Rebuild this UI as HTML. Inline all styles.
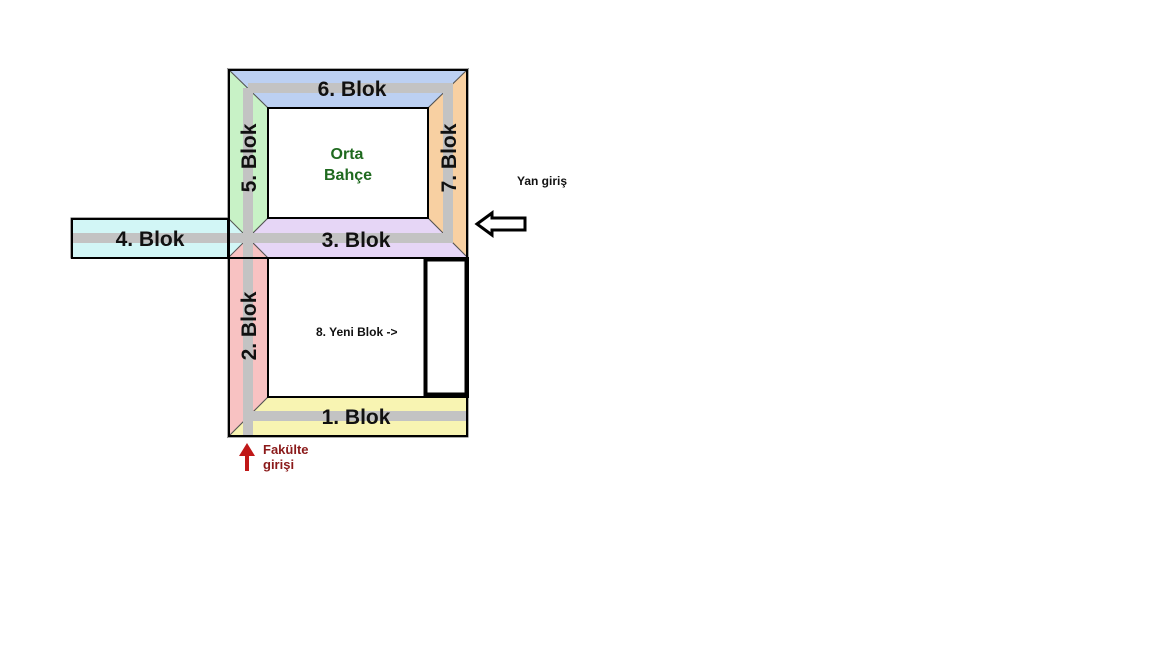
<!DOCTYPE html>
<html><head><style>
body{margin:0;background:#fff;width:1152px;height:648px;overflow:hidden}
svg{display:block}
text{font-family:"Liberation Sans",Arial,sans-serif;font-weight:bold}
</style></head><body>
<svg width="1152" height="648" viewBox="0 0 1152 648">
<g stroke="#555" stroke-width="1">
<polygon points="71,218 248,218 248,258 71,258" fill="#d2f6f6"/>
<polygon points="228,69 468,69 428,108 268,108" fill="#bcd0f2"/>
<polygon points="228,69 268,108 268,218 248,238 228,218" fill="#c8f2c6"/>
<polygon points="468,69 468,258 428,218 428,108" fill="#f8d0a2"/>
<polygon points="268,218 428,218 468,258 268,258 248,238" fill="#e6d6f6"/>
<polygon points="228,258 248,238 268,258 268,397 228,437" fill="#f8c2c2"/>
<polygon points="268,397 468,397 468,437 228,437" fill="#f8f4b2"/>
</g>
<g stroke="#c3c3c3" stroke-width="10" fill="none">
<line x1="248" y1="88" x2="453" y2="88"/>
<line x1="448" y1="88" x2="448" y2="243"/>
<line x1="71" y1="238" x2="448" y2="238"/>
<line x1="248" y1="88" x2="248" y2="437"/>
<line x1="248" y1="416" x2="468" y2="416"/>
</g>
<g fill="none" stroke="#000" stroke-width="2">
<rect x="229" y="70" width="238" height="188"/>
<rect x="268" y="108" width="160" height="110"/>
<rect x="72" y="219" width="156" height="39"/>
<rect x="229" y="258" width="238" height="178"/>
<rect x="268" y="258" width="200" height="139"/>
</g>
<rect x="425.5" y="259.5" width="41" height="135" fill="#fff" stroke="#000" stroke-width="4"/>
<g font-size="21" fill="#111">
<text x="352" y="96" text-anchor="middle">6. Blok</text>
<text x="356" y="247" text-anchor="middle">3. Blok</text>
<text x="150" y="246" text-anchor="middle">4. Blok</text>
<text x="356" y="424" text-anchor="middle">1. Blok</text>
<text transform="translate(256,158) rotate(-90)" text-anchor="middle">5. Blok</text>
<text transform="translate(456,158) rotate(-90)" text-anchor="middle">7. Blok</text>
<text transform="translate(256,326) rotate(-90)" text-anchor="middle">2. Blok</text>
</g>
<g font-size="16" fill="#1f6a1f" text-anchor="middle">
<text x="347" y="159">Orta</text>
<text x="348" y="180">Bahçe</text>
</g>
<text x="316" y="336" font-size="12" fill="#111">8. Yeni Blok -&gt;</text>
<text x="517" y="185" font-size="12" fill="#111">Yan giriş</text>
<polygon points="477,224 492,213 492,218 525,218 525,230 492,230 492,235" fill="#fff" stroke="#000" stroke-width="3"/>
<polygon points="247,443 239,456 245,456 245,471 249,471 249,456 255,456" fill="#c01818"/>
<g font-size="13" fill="#8b1a1a">
<text x="263" y="454">Fakülte</text>
<text x="263" y="469">girişi</text>
</g>
</svg>
</body></html>
